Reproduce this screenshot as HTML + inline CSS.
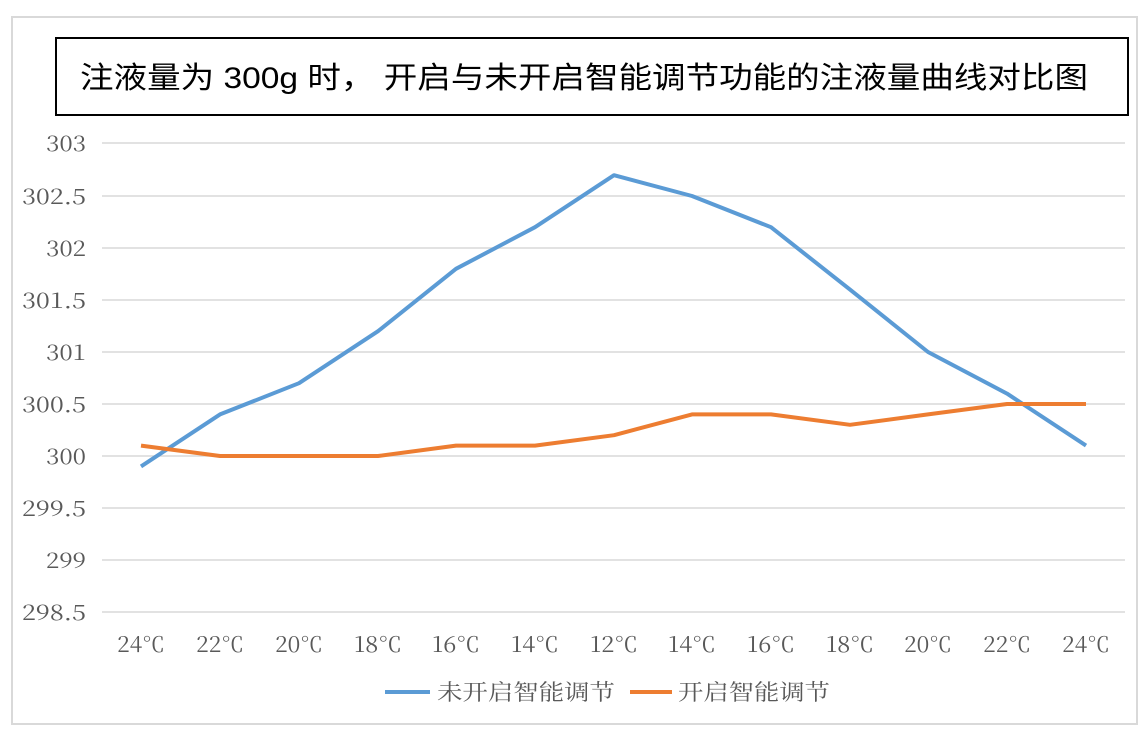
<!DOCTYPE html>
<html><head><meta charset="utf-8"><style>
body{margin:0;background:#fff;width:1144px;height:732px;overflow:hidden}
</style></head><body>
<svg width="1144" height="732" xmlns="http://www.w3.org/2000/svg">
<rect x="12" y="17" width="1125" height="707" fill="#fff" stroke="#d9d9d9" stroke-width="2"/>
<rect x="56" y="38" width="1072" height="77" fill="#fff" stroke="#000" stroke-width="2"/>
<text x="80" y="88" font-family="Liberation Sans, Noto Sans CJK SC, sans-serif" font-size="30" fill="#000" textLength="1008" lengthAdjust="spacingAndGlyphs">注液量为 300g 时，  开启与未开启智能调节功能的注液量曲线对比图</text>
<g stroke="#d9d9d9" stroke-width="1.5">
<line x1="102" x2="1125" y1="143" y2="143"/><line x1="102" x2="1125" y1="196" y2="196"/>
<line x1="102" x2="1125" y1="248" y2="248"/><line x1="102" x2="1125" y1="300" y2="300"/>
<line x1="102" x2="1125" y1="352" y2="352"/><line x1="102" x2="1125" y1="404" y2="404"/>
<line x1="102" x2="1125" y1="456" y2="456"/><line x1="102" x2="1125" y1="508" y2="508"/>
<line x1="102" x2="1125" y1="560" y2="560"/><line x1="102" x2="1125" y1="612" y2="612"/>
</g>
<g font-family="Noto Serif CJK SC, Liberation Serif, serif" font-size="21" fill="#595959" text-anchor="end">
<text x="86" y="151" textLength="40" lengthAdjust="spacingAndGlyphs">303</text><text x="86" y="204" textLength="64" lengthAdjust="spacingAndGlyphs">302.5</text><text x="86" y="256" textLength="40" lengthAdjust="spacingAndGlyphs">302</text>
<text x="86" y="308" textLength="64" lengthAdjust="spacingAndGlyphs">301.5</text><text x="86" y="360" textLength="40" lengthAdjust="spacingAndGlyphs">301</text><text x="86" y="412" textLength="64" lengthAdjust="spacingAndGlyphs">300.5</text>
<text x="86" y="464" textLength="40" lengthAdjust="spacingAndGlyphs">300</text><text x="86" y="516" textLength="64" lengthAdjust="spacingAndGlyphs">299.5</text><text x="86" y="568" textLength="40" lengthAdjust="spacingAndGlyphs">299</text>
<text x="86" y="620" textLength="64" lengthAdjust="spacingAndGlyphs">298.5</text>
</g>
<g font-family="Noto Serif CJK SC, Liberation Serif, serif" font-size="21" fill="#595959" text-anchor="middle">
<text x="141" y="652" textLength="48" lengthAdjust="spacingAndGlyphs">24℃</text><text x="220" y="652" textLength="48" lengthAdjust="spacingAndGlyphs">22℃</text><text x="299" y="652" textLength="48" lengthAdjust="spacingAndGlyphs">20℃</text>
<text x="378" y="652" textLength="48" lengthAdjust="spacingAndGlyphs">18℃</text><text x="456" y="652" textLength="48" lengthAdjust="spacingAndGlyphs">16℃</text><text x="535" y="652" textLength="48" lengthAdjust="spacingAndGlyphs">14℃</text>
<text x="614" y="652" textLength="48" lengthAdjust="spacingAndGlyphs">12℃</text><text x="692" y="652" textLength="48" lengthAdjust="spacingAndGlyphs">14℃</text><text x="771" y="652" textLength="48" lengthAdjust="spacingAndGlyphs">16℃</text>
<text x="850" y="652" textLength="48" lengthAdjust="spacingAndGlyphs">18℃</text><text x="928" y="652" textLength="48" lengthAdjust="spacingAndGlyphs">20℃</text><text x="1007" y="652" textLength="48" lengthAdjust="spacingAndGlyphs">22℃</text>
<text x="1086" y="652" textLength="48" lengthAdjust="spacingAndGlyphs">24℃</text>
</g>
<polyline fill="none" stroke="#5b9bd5" stroke-width="4" stroke-linejoin="round" points="141,466.4 220,414.4 299,383.2 378,331.2 456,268.8 535,227.2 614,175.2 692,196 771,227.2 850,289.6 928,352 1007,393.6 1086,445.6"/>
<polyline fill="none" stroke="#ed7d31" stroke-width="4" stroke-linejoin="round" points="141,445.6 220,456 299,456 378,456 456,445.6 535,445.6 614,435.2 692,414.4 771,414.4 850,424.8 928,414.4 1007,404 1086,404"/>
<line x1="385" x2="430" y1="692" y2="692" stroke="#5b9bd5" stroke-width="4"/>
<line x1="630" x2="672" y1="692" y2="692" stroke="#ed7d31" stroke-width="4"/>
<g font-family="Noto Serif CJK SC, Liberation Serif, serif" font-size="22" fill="#595959">
<text x="437" y="700" textLength="178" lengthAdjust="spacingAndGlyphs">未开启智能调节</text><text x="678" y="700" textLength="152" lengthAdjust="spacingAndGlyphs">开启智能调节</text>
</g>
</svg>
</body></html>
